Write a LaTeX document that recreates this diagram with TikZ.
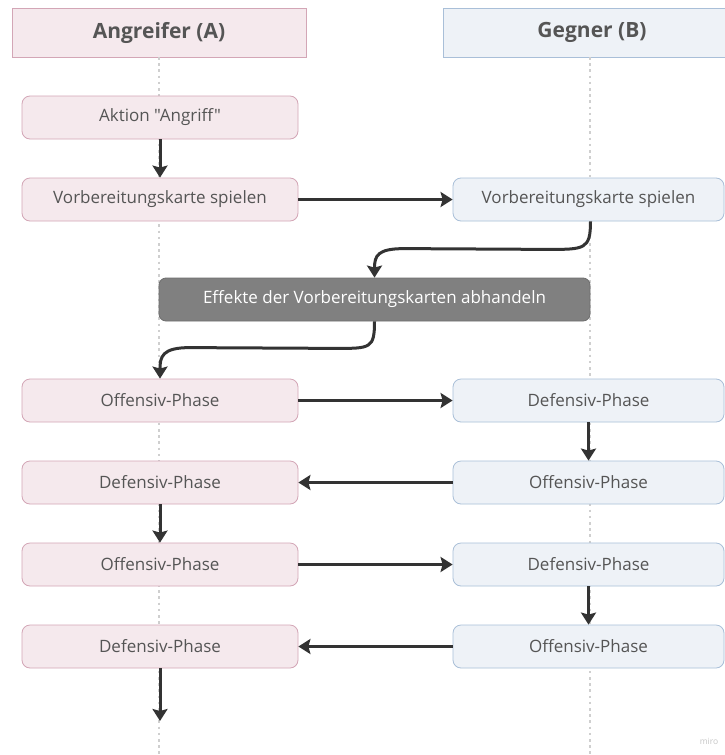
\documentclass[tikz,border=0pt]{standalone}
\usepackage{fontspec}
\setmainfont{Open Sans}[Ligatures=TeXOff]
\usetikzlibrary{arrows.meta,calc}
\definecolor{pinkfill}{HTML}{F5E9ED}
\definecolor{pinkdraw}{HTML}{D3A6B6}
\definecolor{bluefill}{HTML}{EEF2F7}
\definecolor{bluedraw}{HTML}{A9BFD8}
\definecolor{txtc}{HTML}{555555}
\definecolor{arrc}{HTML}{333333}
\definecolor{darkfill}{HTML}{808080}
\definecolor{darkdraw}{HTML}{6E6E6E}
\definecolor{dotc}{HTML}{CFCFCF}
\begin{document}
\begin{tikzpicture}[x=1pt,y=-1pt,
  boxbase/.style={rounded corners=8pt, minimum height=43pt, inner sep=0pt, text=txtc, font=\fontsize{17}{20}\selectfont, line width=0.8pt},
  boxA/.style={boxbase, draw=pinkdraw, fill=pinkfill, minimum width=276pt},
  boxB/.style={boxbase, draw=bluedraw, fill=bluefill, minimum width=271pt},
  headA/.style={draw=pinkdraw, fill=pinkfill, minimum width=294pt, minimum height=49pt, inner sep=0pt, text=txtc, font=\fontsize{21}{24}\selectfont\bfseries, line width=0.8pt},
  headB/.style={draw=bluedraw, fill=bluefill, minimum width=284pt, minimum height=49pt, inner sep=0pt, text=txtc, font=\fontsize{21}{24}\selectfont\bfseries, line width=0.8pt},
  effbox/.style={rounded corners=7pt, draw=darkdraw, fill=darkfill, minimum width=431pt, minimum height=43pt, inner sep=0pt, text=white, font=\fontsize{17}{20}\selectfont, line width=0.8pt},
  conn/.style={draw=arrc, line width=3pt, -{Stealth[length=12pt,width=15pt,inset=2pt]}},
  lifeline/.style={draw=dotc, line width=2.6pt, dash pattern=on 2.6pt off 3.6pt}
]
\fill[white] (0,0) rectangle (725,755);
\useasboundingbox (0,0) rectangle (725,755);

% headers
\node[headA] (hA) at (159,32.5) {Angreifer (A)};
\node[headB] (hB) at (585,32.5) {};
\node[text=txtc, font=\fontsize{21}{24}\selectfont\bfseries] (hBt) at (592,32.5) {Gegner (B)};

% lifelines
\coordinate (lA) at (159,755);
\coordinate (lB) at (590,755);
\draw[lifeline] (159,57) -- (lA);
\draw[lifeline] (590,57) -- (lB);

% boxes
\node[boxA] (a1) at (160,117.5) {Aktion "Angriff"};
\node[boxA] (a2) at (160,199.5) {Vorbereitungskarte spielen};
\node[boxB] (b2) at (588.5,199.5) {Vorbereitungskarte spielen};
\node[effbox] (eff) at (374.5,299.5) {Effekte der Vorbereitungskarten abhandeln};
\node[boxA] (a3) at (160,400.5) {Offensiv-Phase};
\node[boxB] (b3) at (588.5,400.5) {Defensiv-Phase};
\node[boxA] (a4) at (160,482.5) {Defensiv-Phase};
\node[boxB] (b4) at (588.5,482.5) {Offensiv-Phase};
\node[boxA] (a5) at (160,564.5) {Offensiv-Phase};
\node[boxB] (b5) at (588.5,564.5) {Defensiv-Phase};
\node[boxA] (a6) at (160,646.5) {Defensiv-Phase};
\node[boxB] (b6) at (588.5,646.5) {Offensiv-Phase};
\coordinate (aend) at (160,721);

% connectors
\draw[conn] (a1.south) -- (a2.north);
\draw[conn] (a2.east) -- (b2.west);
\draw[conn] ($(b2.south)+(2,0)$) .. controls ($(b2.south)+(2,28)$) and ($(b2.south)+(-4,28)$) .. ($(b2.south)+(-40,28)$)
   -- ($(eff.north)+(30,-29)$) .. controls ($(eff.north)+(3,-29)$) and ($(eff.north)+(0,-22)$) .. (eff.north);
\draw[conn] (eff.south) .. controls ($(eff.south)+(0,27)$) and ($(eff.south)+(-4,27)$) .. ($(eff.south)+(-38,27)$)
   -- ($(a3.north)+(30,-31)$) .. controls ($(a3.north)+(2,-31)$) and ($(a3.north)+(0,-22)$) .. (a3.north);
\draw[conn] (a3.east) -- (b3.west);
\draw[conn] (b3.south) -- (b4.north);
\draw[conn] (b4.west) -- (a4.east);
\draw[conn] (a4.south) -- (a5.north);
\draw[conn] (a5.east) -- (b5.west);
\draw[conn] (b5.south) -- (b6.north);
\draw[conn] (b6.west) -- (a6.east);
\draw[conn] (a6.south) -- (aend);

\node[text=gray!45, font=\fontsize{8.5}{10}\selectfont] (miro) at (709,741) {miro};
\end{tikzpicture}
\end{document}
